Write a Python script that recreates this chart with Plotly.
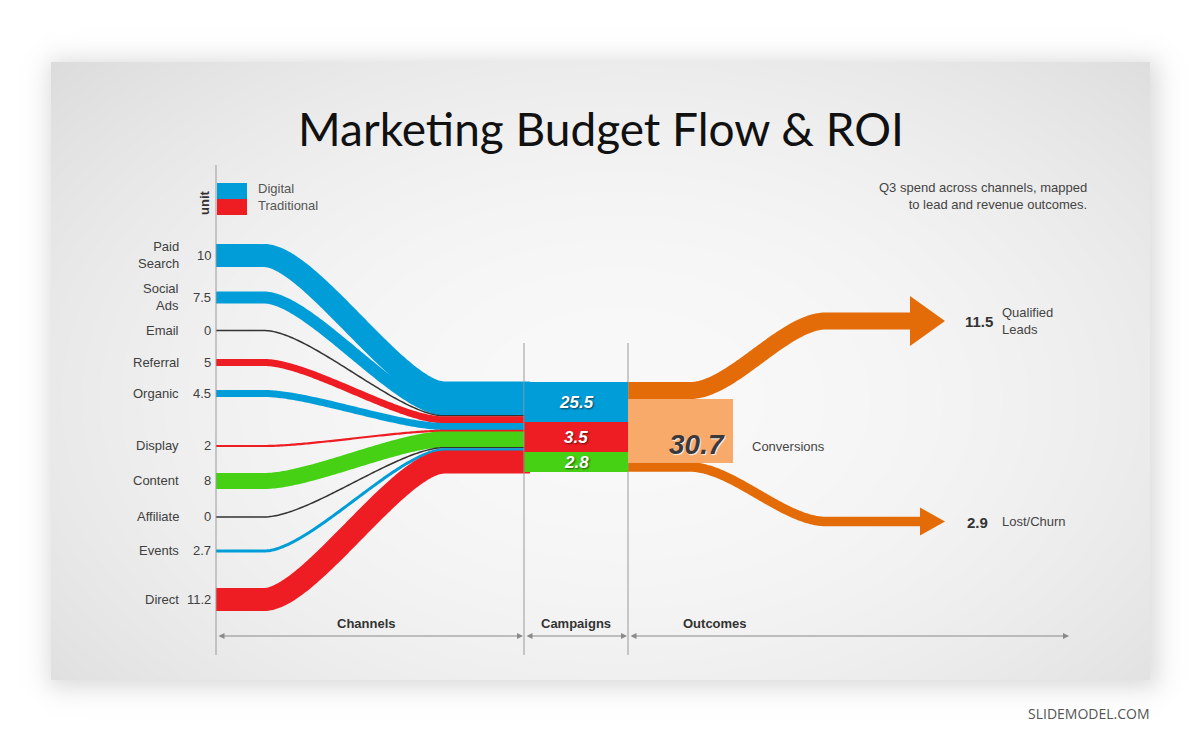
import numpy as np, zlib, struct, base64
import plotly.graph_objects as go

# ---------------- data ----------------
channels = ["Paid Search", "Social Ads", "Email", "Referral", "Organic",
            "Display", "Content", "Affiliate", "Events", "Direct"]
channel_values = [10, 7.5, 0, 5, 4.5, 2, 8, 0, 2.7, 11.2]
channel_group = ["Digital", "Digital", "None", "Traditional", "Digital",
                 "Traditional", "Content", "None", "Digital", "Traditional"]
legend_items = ["Digital", "Traditional"]
campaign_values = [25.5, 3.5, 2.8]
campaign_group = ["Digital", "Traditional", "Content"]
conversions_value = 30.7
outcomes = ["Qualified<br>Leads", "Lost/Churn"]
outcome_values = [11.5, 2.9]
stages = ["Channels", "Campaigns", "Outcomes"]
title = "Marketing Budget Flow & ROI"
subtitle = "Q3 spend across channels, mapped<br>to lead and revenue outcomes."

# ---------------- styles / layout (pixels) ----------------
W, H = 1200, 743
colors = {"Digital": "#009dd9", "Traditional": "#ee1d23", "Content": "#47d114", "None": "#333333"}
ORANGE = "#e36c09"
FONT = "Liberation Sans, Arial, sans-serif"
left_y = [255.5, 297.5, 330.5, 362.5, 393.5, 446, 481, 517, 551, 599.5]
band_px = [23, 12, 1.5, 7, 7, 2.2, 16, 1.5, 3, 23]
X_AXIS, X_CAMP0, X_CAMP1, X_CONV1 = 216, 524, 628, 733
camp_edges = [382, 422, 452, 472]
out_y0 = [390.5, 467]
out_y1 = [321, 521.5]
out_px = [17, 9.5]
out_base = [910, 920]
out_head_h = [50, 28]
out_tip = 945

# ---------------- background image (slide + shadow) ----------------
yy, xx = np.mgrid[0:H, 0:W].astype(float)
def cdf(z):
    return 1.0 / (1.0 + np.exp(-1.702 * z))
sx0, sy0, sx1, sy1 = 51, 62, 1150, 680
sig = 12.0
sh = cdf((xx - sx0 + 3) / sig) * cdf((sx1 + 8 - xx) / sig) * cdf((yy - sy0 + 3) / sig) * cdf((sy1 + 8 - yy) / sig)
bg = 255 - 36 * sh
inside = (xx >= sx0) & (xx < sx1) & (yy >= sy0) & (yy < sy1)
r2 = ((xx - 620) / 620) ** 2 + ((yy - 400) / 400) ** 2
slide = 248.5 - 18.5 * r2
bg = np.where(inside, slide, bg)
img = np.clip(np.round(bg), 0, 255).astype(np.uint8)
f = np.empty_like(img)
f[:, 0] = img[:, 0]
f[:, 1:] = ((img[:, 1:].astype(np.int16) - img[:, :-1].astype(np.int16)) % 256).astype(np.uint8)
raw = np.hstack([np.ones((H, 1), np.uint8), f]).tobytes()
def chunk(t, d):
    return struct.pack(">I", len(d)) + t + d + struct.pack(">I", zlib.crc32(t + d) & 0xffffffff)
png = (b"\x89PNG\r\n\x1a\n" + chunk(b"IHDR", struct.pack(">IIBBBBB", W, H, 8, 0, 0, 0, 0))
       + chunk(b"IDAT", zlib.compress(raw, 9)) + chunk(b"IEND", b""))
uri = "data:image/png;base64," + base64.b64encode(png).decode()

fig = go.Figure()

def bez(p0, p1, p2, p3, n=90):
    t = np.linspace(0, 1, n)
    return (1 - t) ** 3 * p0 + 3 * (1 - t) ** 2 * t * p1 + 3 * (1 - t) * t ** 2 * p2 + t ** 3 * p3

# right-end stacking of channel bands
right_y = []
cur = camp_edges[0]
scale = (camp_edges[-1] + 1 - camp_edges[0]) / sum(band_px)
for w in band_px:
    right_y.append(cur + w * scale / 2)
    cur += w * scale

xa, xb, c = 264, 444, 45
for i, name in enumerate(channels):
    y0, y1 = left_y[i], right_y[i]
    bx = bez(xa, xa + c, xb - c, xb)
    by = bez(y0, y0, y1, y1)
    xs = np.concatenate([[X_AXIS], bx, [X_CAMP0 + 6]])
    ys = np.concatenate([[y0], by, [y1]])
    fig.add_trace(go.Scatter(x=xs, y=ys, mode="lines",
                             line=dict(color=colors[channel_group[i]], width=band_px[i], simplify=False),
                             hoverinfo="skip", showlegend=False))

# outcome flows
for i in range(len(outcomes)):
    y0, y1 = out_y0[i], out_y1[i]
    bx = bez(690, 732, 784, 826)
    by = bez(y0, y0, y1, y1)
    xs = np.concatenate([[X_CAMP1], bx, [out_base[i] + 1]])
    ys = np.concatenate([[y0], by, [y1]])
    fig.add_trace(go.Scatter(x=xs, y=ys, mode="lines",
                             line=dict(color=ORANGE, width=out_px[i], simplify=False),
                             hoverinfo="skip", showlegend=False))
    hh = out_head_h[i] / 2
    fig.add_trace(go.Scatter(x=[out_base[i], out_tip, out_base[i], out_base[i]],
                             y=[y1 - hh, y1, y1 + hh, y1 - hh], mode="lines", fill="toself",
                             fillcolor=ORANGE, line=dict(color=ORANGE, width=0),
                             hoverinfo="skip", showlegend=False))

shapes = []
line_col = "#9a9a9a"
shapes.append(dict(type="line", x0=X_AXIS, x1=X_AXIS, y0=165, y1=655, line=dict(color=line_col, width=1)))
for xv in (X_CAMP0, X_CAMP1):
    shapes.append(dict(type="line", x0=xv, x1=xv, y0=343, y1=655, line=dict(color=line_col, width=1)))
shapes.append(dict(type="rect", x0=217, x1=247, y0=183, y1=199, fillcolor=colors["Digital"], line=dict(width=0)))
shapes.append(dict(type="rect", x0=217, x1=247, y0=199, y1=215, fillcolor=colors["Traditional"], line=dict(width=0)))
for i, g in enumerate(campaign_group):
    shapes.append(dict(type="rect", x0=X_CAMP0 + 0.5, x1=X_CAMP1, y0=camp_edges[i], y1=camp_edges[i + 1],
                       fillcolor=colors[g], line=dict(width=0)))
shapes.append(dict(type="rect", x0=X_CAMP1, x1=X_CONV1, y0=399, y1=463,
                   fillcolor="#f8aa6a", line=dict(width=0)))

ann = []
def txt(x, y, s, size=13, color="#404040", xanchor="center", weight="normal", style="normal",
        family=FONT, align="center", shadow=None, angle=0):
    fnt = dict(family=family, size=size, color=color, weight=weight, style=style)
    if shadow:
        fnt["shadow"] = shadow
    ann.append(dict(x=x, y=y, text=s, showarrow=False, xanchor=xanchor, yanchor="middle",
                    font=fnt, align=align, textangle=angle))

txt(601, 128, title, size=46, color="#111111", family="Lato, Open Sans, sans-serif")
txt(1089, 196, subtitle, size=13, color="#444444", xanchor="right", align="right")
txt(1152, 713, "SLIDEMODEL.COM", size=14, color="#555555", xanchor="right", family="Open Sans, sans-serif")
txt(256, 188.5, legend_items[0], xanchor="left", color="#555555")
txt(256, 205.5, legend_items[1], xanchor="left", color="#555555")
txt(204, 203, "unit", weight="bold", color="#333333", angle=-90)
for i, name in enumerate(channels):
    label = name.replace(" ", "<br>")
    txt(181, left_y[i] - 0.5, label, xanchor="right", align="right")
    txt(213, left_y[i] - 0.5, f"{channel_values[i]:g}", xanchor="right")
for i, v in enumerate(campaign_values):
    txt((X_CAMP0 + X_CAMP1) / 2, (camp_edges[i] + camp_edges[i + 1]) / 2, f"{v:g}", size=17,
        color="white", weight="bold", style="italic", shadow="1px 1px 2px rgba(0,0,0,0.6)")
txt(727, 444, f"{conversions_value:g}", size=28, color="#3a3a3a", weight="bold", style="italic",
    xanchor="right", shadow="1px 1px 1px rgba(255,255,255,0.9)")
txt(750, 446.5, "Conversions", color="#444444", xanchor="left")
val_right = [995, 990]
for i, o in enumerate(outcomes):
    txt(val_right[i], out_y1[i] + 0.5, f"{outcome_values[i]:g}", size=15, color="#333333",
        weight="bold", xanchor="right")
    txt(1000, out_y1[i] - 0.5, o, xanchor="left", align="left", color="#444444")
stage_bounds = [(X_AXIS, X_CAMP0), (X_CAMP0, X_CAMP1), (X_CAMP1, 1070)]
stage_lx = [366, 576, 715]
for i, s in enumerate(stages):
    txt(stage_lx[i], 623.5, s, weight="bold", color="#333333")
    a, b = stage_bounds[i]
    ann.append(dict(x=b - 1, y=636, ax=a + 1, ay=636, xref="x", yref="y", axref="x", ayref="y",
                    text="", showarrow=True, arrowhead=2, arrowside="end+start", arrowsize=1,
                    arrowwidth=1.2, arrowcolor="#8a8a8a", standoff=0, startstandoff=0))

fig.update_layout(
    width=W, height=H, margin=dict(l=0, r=0, t=0, b=0),
    paper_bgcolor="white", plot_bgcolor="rgba(0,0,0,0)",
    xaxis=dict(range=[0, W], visible=False, fixedrange=True),
    yaxis=dict(range=[H, 0], visible=False, fixedrange=True),
    shapes=shapes, annotations=ann, showlegend=False,
    images=[dict(source=uri, xref="paper", yref="paper", x=0, y=1, sizex=1, sizey=1,
                 xanchor="left", yanchor="top", sizing="stretch", layer="below")],
)
fig.write_html("out.html")
